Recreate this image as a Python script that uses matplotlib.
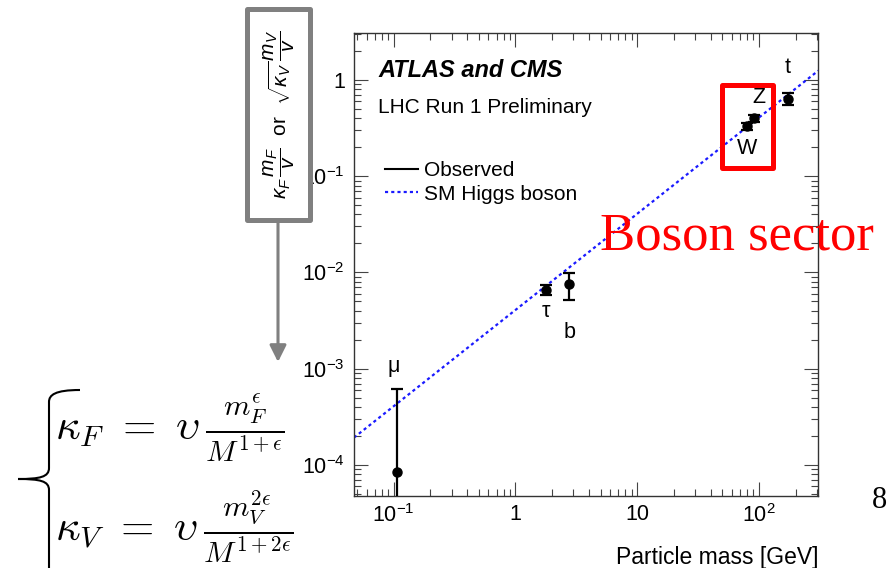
import math
import matplotlib
matplotlib.use('Agg')
import matplotlib.pyplot as plt
from matplotlib.path import Path
from matplotlib.patches import PathPatch, Rectangle, FancyArrowPatch
from matplotlib.lines import Line2D
from matplotlib.ticker import FuncFormatter, LogLocator

# Observed coupling-scaled masses (kappa * m / v)
particles = ['μ', 'τ', 'b', 'W', 'Z', 't']
masses = [0.1057, 1.777, 2.76, 80.4, 91.19, 172.5]
values = [8.5e-5, 6.5e-3, 7.6e-3, 0.33, 0.40, 0.63]
upper = [6.2e-4, 7.4e-3, 9.8e-3, 0.355, 0.43, 0.74]
lower = [1e-7, 5.8e-3, 5.2e-3, 0.305, 0.37, 0.545]

# SM expectation m / v over the plotted mass range
sm_mass = [0.0473, 307]
sm_value = [1.92e-4, 1.25]

W, H = 889, 568

plt.rcParams['font.family'] = ['Liberation Sans', 'DejaVu Sans']
plt.rcParams['mathtext.fontset'] = 'custom'
plt.rcParams['mathtext.rm'] = 'Liberation Sans'
plt.rcParams['mathtext.it'] = 'Liberation Sans:italic'
plt.rcParams['mathtext.bf'] = 'Liberation Sans:bold'


def fpos(x, y):
    # pixel position (origin top-left) -> figure fraction
    return x / W, 1 - y / H


fig = plt.figure(figsize=(W / 100, H / 100), dpi=100)
ax = fig.add_axes([354 / W, 1 - 495.5 / H, (818.3 - 354) / W, (495.5 - 32.7) / H])
ax.set_xscale('log')
ax.set_yscale('log')
ax.set_xlim(0.0473, 307)
ax.set_ylim(4.8e-5, 3.1)

yerr = [[v - lo for v, lo in zip(values, lower)], [up - v for v, up in zip(values, upper)]]
ax.errorbar(masses, values, yerr=yerr, fmt='o', color='black', ms=6.5,
            elinewidth=1.6, capsize=4, capthick=1.6, zorder=3)
sm_line, = ax.plot(sm_mass, sm_value, color='#1a1aff', lw=1.6,
                   linestyle=(0, (1.4, 1.4)), zorder=2)

offsets = {'μ': (-2, 76), 'τ': (0, -15), 'b': (0, -35), 'W': (0, -16), 'Z': (3.6, 15), 't': (0, 23)}
for name, m, v in zip(particles, masses, values):
    ax.annotate(name, (m, v), xytext=offsets[name], textcoords='offset points',
                ha='center', va='center', fontsize=15.5)

for s in ax.spines.values():
    s.set_color('#333333')
    s.set_linewidth(1.0)
ax.tick_params(which='both', direction='in', top=True, right=True, color='#444444',
               labelsize=15.5, width=0.8)
ax.tick_params(which='major', length=10)
ax.tick_params(which='minor', length=5)
ax.tick_params(axis='x', pad=6)
ax.tick_params(axis='y', pad=6.5)
ax.xaxis.set_major_locator(LogLocator(base=10, numticks=20))
ax.yaxis.set_major_locator(LogLocator(base=10, numticks=20))
ax.xaxis.set_minor_locator(LogLocator(base=10, subs=range(2, 10), numticks=50))
ax.yaxis.set_minor_locator(LogLocator(base=10, subs=range(2, 10), numticks=50))


def fmt(v, pos):
    if abs(v - 1) < 1e-9:
        return '1'
    if abs(v - 10) < 1e-9:
        return '10'
    return r'$10^{%d}$' % round(math.log10(v))


ax.xaxis.set_major_formatter(FuncFormatter(fmt))
ax.yaxis.set_major_formatter(FuncFormatter(fmt))

obs_handle = Line2D([], [], color='black', lw=1.5)
ax.legend([obs_handle, sm_line], ['Observed', 'SM Higgs boson'], loc='upper left',
          bbox_to_anchor=(0.0668, 0.722), frameon=False, fontsize=15,
          borderpad=0, borderaxespad=0, handlelength=1.6, handletextpad=0.25,
          labelspacing=0.2)

fig.text(*fpos(378, 77), 'ATLAS and CMS', fontsize=17, fontweight='bold',
         fontstyle='italic', va='baseline')
fig.text(*fpos(378, 113), 'LHC Run 1 Preliminary', fontsize=15, va='baseline')
fig.text(*fpos(818, 564), 'Particle mass [GeV]', fontsize=16.5, ha='right', va='baseline')

# y-axis title in a grey frame
fig.patches.append(Rectangle(fpos(247.5, 219.5), 62 / W, 210 / H, transform=fig.transFigure,
                             facecolor='white', edgecolor='#808080', lw=3.6,
                             joinstyle='round', zorder=5))
fig.text(*fpos(279, 114), r'$\kappa_F\,\dfrac{m_F}{v}$  or  $\sqrt{\kappa_V}\,\dfrac{m_V}{v}$',
         rotation=90, ha='center', va='center', fontsize=15, zorder=6)
fig.patches.append(FancyArrowPatch(fpos(278, 222), fpos(278, 362), transform=fig.transFigure,
                                   arrowstyle='-|>,head_length=10,head_width=5',
                                   mutation_scale=1, color='#808080', lw=2.2,
                                   shrinkA=0, shrinkB=0, zorder=5))

# highlighted vector bosons
fig.patches.append(Rectangle(fpos(721.5, 167.5), 51 / W, 83 / H, transform=fig.transFigure,
                             facecolor='none', edgecolor='red', lw=3.6,
                             joinstyle='round', zorder=5))
fig.text(*fpos(600, 250), 'Boson sector', color='red', fontsize=38,
         family='Liberation Serif', va='baseline', zorder=6)
fig.text(*fpos(872, 508), '8', fontsize=22, family='Liberation Serif', va='baseline')

# coupling parametrisation
fig.text(*fpos(55, 440), r'$\kappa_F\ =\ \upsilon\,\frac{m_F^{\epsilon}}{M^{1+\epsilon}}$',
         fontsize=31, math_fontfamily='cm', va='baseline')
fig.text(*fpos(55, 541), r'$\kappa_V\ =\ \upsilon\,\frac{m_V^{2\epsilon}}{M^{1+2\epsilon}}$',
         fontsize=31, math_fontfamily='cm', va='baseline')
brace = [(80, 390), (55, 390), (49, 395), (49, 402),
         (49, 468),
         (49, 477), (40, 479), (18, 479),
         (40, 479), (49, 481), (49, 490),
         (49, 572)]
codes = [Path.MOVETO, Path.CURVE4, Path.CURVE4, Path.CURVE4,
         Path.LINETO,
         Path.CURVE4, Path.CURVE4, Path.CURVE4,
         Path.CURVE4, Path.CURVE4, Path.CURVE4,
         Path.LINETO]
fig.patches.append(PathPatch(Path([fpos(x, y) for x, y in brace], codes),
                             transform=fig.transFigure, facecolor='none',
                             edgecolor='black', lw=1.5))

fig.savefig('out.png', dpi=100)
